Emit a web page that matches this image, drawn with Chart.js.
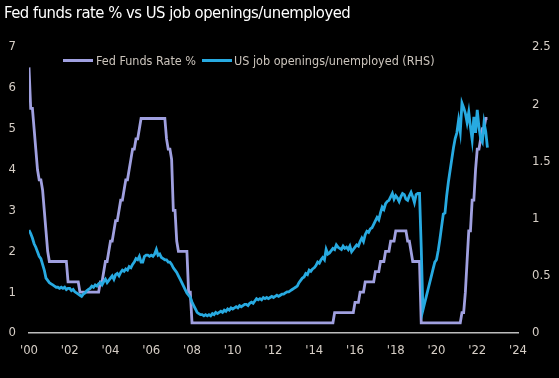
<!DOCTYPE html>
<html>
<head>
<meta charset="utf-8">
<script src="https://cdn.jsdelivr.net/npm/chart.js@4"></script>
<style>
  html, body { margin: 0; padding: 0; background: #000; }
  #wrap { position: relative; width: 559px; height: 378px; background: #000; overflow: hidden; }
  #title {
    position: absolute; left: 4px; top: 3px; color: #fff;
    font-family: "Liberation Sans Narrow", "DejaVu Sans Condensed", "Arial Narrow", sans-serif;
    font-size: 16.5px; letter-spacing: -0.5px; line-height: 20px; white-space: nowrap;
  }
  .sw { position: absolute; top: 59px; width: 30px; height: 3px; }
  .lt {
    position: absolute; top: 53px; color: #cbc4bc;
    font-family: "Liberation Sans Narrow", "DejaVu Sans Condensed", "Arial Narrow", sans-serif;
    font-size: 12.5px; line-height: 15px; white-space: nowrap;
  }
</style>
</head>
<body>
<div id="wrap">
  <canvas id="chart"></canvas>
  <div id="title">Fed funds rate % vs US job openings/unemployed</div>
  <span class="sw" style="left:63px; background:#a0a0e0"></span>
  <span class="lt" style="left:96px">Fed Funds Rate %</span>
  <span class="sw" style="left:202px; background:#27aae1"></span>
  <span class="lt" style="left:234px">US job openings/unemployed (RHS)</span>
</div>
<script>
// monthly series, first value plotted at the start of '00
const startYear = 2000;

const fedFunds = [
  6.5, 5.5, 5.5, 5.0, 4.5, 4.0, 3.75, 3.75, 3.5, 3.0, 2.5, 2.0,
  1.75, 1.75, 1.75, 1.75, 1.75, 1.75, 1.75, 1.75, 1.75, 1.75, 1.75, 1.25,
  1.25, 1.25, 1.25, 1.25, 1.25, 1.25, 1.0, 1.0, 1.0, 1.0, 1.0, 1.0,
  1.0, 1.0, 1.0, 1.0, 1.0, 1.0, 1.25, 1.25, 1.5, 1.75, 1.75, 2.0,
  2.25, 2.25, 2.5, 2.75, 2.75, 3.0, 3.25, 3.25, 3.5, 3.75, 3.75, 4.0,
  4.25, 4.5, 4.5, 4.75, 4.75, 5.0, 5.25, 5.25, 5.25, 5.25, 5.25, 5.25,
  5.25, 5.25, 5.25, 5.25, 5.25, 5.25, 5.25, 5.25, 5.25, 4.75, 4.5, 4.5,
  4.25, 3.0, 3.0, 2.25, 2.0, 2.0, 2.0, 2.0, 2.0, 2.0, 1.0, 1.0,
  0.25, 0.25, 0.25, 0.25, 0.25, 0.25, 0.25, 0.25, 0.25, 0.25, 0.25, 0.25,
  0.25, 0.25, 0.25, 0.25, 0.25, 0.25, 0.25, 0.25, 0.25, 0.25, 0.25, 0.25,
  0.25, 0.25, 0.25, 0.25, 0.25, 0.25, 0.25, 0.25, 0.25, 0.25, 0.25, 0.25,
  0.25, 0.25, 0.25, 0.25, 0.25, 0.25, 0.25, 0.25, 0.25, 0.25, 0.25, 0.25,
  0.25, 0.25, 0.25, 0.25, 0.25, 0.25, 0.25, 0.25, 0.25, 0.25, 0.25, 0.25,
  0.25, 0.25, 0.25, 0.25, 0.25, 0.25, 0.25, 0.25, 0.25, 0.25, 0.25, 0.25,
  0.25, 0.25, 0.25, 0.25, 0.25, 0.25, 0.25, 0.25, 0.25, 0.25, 0.25, 0.25,
  0.5, 0.5, 0.5, 0.5, 0.5, 0.5, 0.5, 0.5, 0.5, 0.5, 0.5, 0.5,
  0.75, 0.75, 0.75, 1.0, 1.0, 1.0, 1.25, 1.25, 1.25, 1.25, 1.25, 1.25,
  1.5, 1.5, 1.5, 1.75, 1.75, 1.75, 2.0, 2.0, 2.0, 2.25, 2.25, 2.25,
  2.5, 2.5, 2.5, 2.5, 2.5, 2.5, 2.5, 2.25, 2.25, 2.0, 1.75, 1.75,
  1.75, 1.75, 1.75, 0.25, 0.25, 0.25, 0.25, 0.25, 0.25, 0.25, 0.25, 0.25,
  0.25, 0.25, 0.25, 0.25, 0.25, 0.25, 0.25, 0.25, 0.25, 0.25, 0.25, 0.25,
  0.25, 0.25, 0.25, 0.5, 0.5, 1.0, 1.75, 2.5, 2.5, 3.25, 3.25, 4.0,
  4.5, 4.5, 4.75, 5.0, 5.0, 5.25, 5.25
];

const jobRatio = [
  0.90, 0.87, 0.83, 0.78, 0.75, 0.71, 0.67, 0.65, 0.60, 0.55, 0.48, 0.46,
  0.44, 0.43, 0.42, 0.41, 0.40, 0.40, 0.39, 0.40, 0.39, 0.40, 0.38, 0.39,
  0.39, 0.37, 0.38, 0.36, 0.35, 0.34, 0.33, 0.32, 0.34, 0.35, 0.37, 0.38,
  0.39, 0.41, 0.40, 0.42, 0.41, 0.43, 0.44, 0.42, 0.45, 0.47, 0.44, 0.46,
  0.48, 0.50, 0.47, 0.51, 0.52, 0.50, 0.53, 0.55, 0.54, 0.56, 0.55, 0.58,
  0.57, 0.60, 0.62, 0.65, 0.64, 0.67, 0.62, 0.62, 0.67, 0.68, 0.68, 0.67,
  0.68, 0.67, 0.69, 0.73, 0.68, 0.69, 0.66, 0.65, 0.64, 0.64, 0.62, 0.62,
  0.60, 0.57, 0.55, 0.53, 0.50, 0.47, 0.44, 0.41, 0.38, 0.35, 0.33, 0.31,
  0.27, 0.24, 0.21, 0.18, 0.17, 0.16, 0.16, 0.15, 0.16, 0.15, 0.16, 0.15,
  0.17, 0.16, 0.18, 0.17, 0.18, 0.19, 0.18, 0.20, 0.19, 0.21, 0.20, 0.22,
  0.21, 0.22, 0.23, 0.22, 0.24, 0.23, 0.24, 0.25, 0.25, 0.24, 0.26, 0.27,
  0.26, 0.28, 0.30, 0.29, 0.30, 0.29, 0.31, 0.30, 0.31, 0.30, 0.31, 0.32,
  0.31, 0.32, 0.33, 0.32, 0.33, 0.34, 0.34, 0.35, 0.36, 0.36, 0.37, 0.38,
  0.39, 0.40, 0.41, 0.44, 0.46, 0.48, 0.49, 0.52, 0.51, 0.55, 0.54, 0.56,
  0.57, 0.59, 0.62, 0.61, 0.64, 0.66, 0.64, 0.73, 0.69, 0.70, 0.72, 0.74,
  0.73, 0.77, 0.75, 0.74, 0.73, 0.76, 0.74, 0.75, 0.73, 0.76, 0.71, 0.73,
  0.75, 0.77, 0.76, 0.80, 0.83, 0.80, 0.86, 0.89, 0.88, 0.91, 0.92, 0.95,
  0.98, 1.01, 0.99, 1.05, 1.10, 1.08, 1.13, 1.15, 1.16, 1.19, 1.22, 1.17,
  1.20, 1.18, 1.15, 1.19, 1.22, 1.21, 1.17, 1.16, 1.20, 1.23, 1.19, 1.14,
  1.21, 1.22, 1.22, 0.75, 0.20, 0.26, 0.32, 0.38, 0.44, 0.50, 0.56, 0.62,
  0.64, 0.72, 0.82, 0.93, 1.04, 1.05, 1.20, 1.32, 1.42, 1.52, 1.62, 1.70,
  1.75, 1.86, 1.76, 2.01, 1.97, 1.92, 1.84, 1.93, 1.80, 1.69, 1.89, 1.75,
  1.95, 1.80, 1.70, 1.67, 1.84, 1.76, 1.62
];

const yearTicks = [2000, 2002, 2004, 2006, 2008, 2010, 2012, 2014, 2016, 2018, 2020, 2022, 2024];
const yearLabels = ["'00", "'02", "'04", "'06", "'08", "'10", "'12", "'14", "'16", "'18", "'20", "'22", "'24"];
const leftTicks = [0, 1, 2, 3, 4, 5, 6, 7];
const rightTicks = [0, 0.5, 1, 1.5, 2, 2.5];
const rightLabels = ['0', '0.5', '1', '1.5', '2', '2.5'];

const FONT = '"Liberation Sans Narrow", "DejaVu Sans Condensed", "Arial Narrow", sans-serif';
const tickColor = '#d6cec6';

const toPoints = arr => arr.map((v, i) => ({ x: startYear + i / 12, y: v }));
const setTicks = list => scale => { scale.ticks = list.map(v => ({ value: v })); };

new Chart(document.getElementById('chart'), {
  type: 'line',
  data: {
    datasets: [{
      label: 'US job openings/unemployed (RHS)',
      data: toPoints(jobRatio),
      yAxisID: 'y1',
      borderColor: '#27aae1',
      order: 0
    }, {
      label: 'Fed Funds Rate %',
      data: toPoints(fedFunds),
      yAxisID: 'y',
      borderColor: '#a0a0e0',
      order: 1
    }]
  },
  options: {
    responsive: true,
    maintainAspectRatio: false,
    animation: false,
    layout: { padding: { top: 47, right: 0, bottom: 0, left: 0 } },
    elements: {
      point: { radius: 0 },
      line: { tension: 0, borderWidth: 2.8, fill: false }
    },
    plugins: {
      legend: { display: false },
      tooltip: { enabled: false }
    },
    scales: {
      x: {
        type: 'linear',
        min: 2000,
        max: 2024,
        afterBuildTicks: setTicks(yearTicks),
        afterFit: s => { s.height = 45; },
        grid: { display: false, drawTicks: false },
        border: { display: true, color: '#bdbdbd', width: 1.5 },
        ticks: {
          color: tickColor,
          font: { family: FONT, size: 13 },
          padding: 10,
          maxRotation: 0,
          autoSkip: false,
          callback: (v, i) => yearLabels[i]
        }
      },
      y: {
        position: 'left',
        min: 0,
        max: 7,
        afterBuildTicks: setTicks(leftTicks),
        afterFit: s => { s.width = 29; },
        grid: { display: false, drawTicks: false },
        border: { display: false },
        ticks: {
          color: tickColor,
          font: { family: FONT, size: 13 },
          padding: 13,
          callback: (v, i) => String(leftTicks[i])
        }
      },
      y1: {
        position: 'right',
        min: 0,
        max: 2.5,
        afterBuildTicks: setTicks(rightTicks),
        afterFit: s => { s.width = 41; },
        grid: { display: false, drawTicks: false },
        border: { display: false },
        ticks: {
          color: tickColor,
          font: { family: FONT, size: 13 },
          padding: 14,
          callback: (v, i) => rightLabels[i]
        }
      }
    }
  }
});
</script>
</body>
</html>
